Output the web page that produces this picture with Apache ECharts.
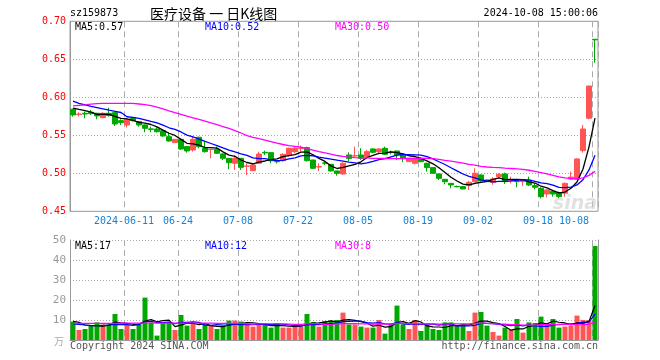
<!DOCTYPE html>
<html><head><meta charset="utf-8">
<script src="https://cdn.jsdelivr.net/npm/echarts@6/dist/echarts.min.js"></script>
<style>html,body{margin:0;padding:0;background:#fff}#c{width:660px;height:360px}</style>
</head><body><div id="c"></div>
<script>
const dates = ['2024-05-28','2024-05-29','2024-05-30','2024-05-31','2024-06-03','2024-06-04','2024-06-05','2024-06-06','2024-06-07','2024-06-11',
'2024-06-12','2024-06-13','2024-06-14','2024-06-17','2024-06-18','2024-06-19','2024-06-20','2024-06-21','2024-06-24','2024-06-25',
'2024-06-26','2024-06-27','2024-06-28','2024-07-01','2024-07-02','2024-07-03','2024-07-04','2024-07-05','2024-07-08','2024-07-09',
'2024-07-10','2024-07-11','2024-07-12','2024-07-15','2024-07-16','2024-07-17','2024-07-18','2024-07-19','2024-07-22','2024-07-23',
'2024-07-24','2024-07-25','2024-07-26','2024-07-29','2024-07-30','2024-07-31','2024-08-01','2024-08-02','2024-08-05','2024-08-06',
'2024-08-07','2024-08-08','2024-08-09','2024-08-12','2024-08-13','2024-08-14','2024-08-15','2024-08-16','2024-08-19','2024-08-20',
'2024-08-21','2024-08-22','2024-08-23','2024-08-26','2024-08-27','2024-08-28','2024-08-29','2024-08-30','2024-09-02','2024-09-03',
'2024-09-04','2024-09-05','2024-09-06','2024-09-09','2024-09-10','2024-09-11','2024-09-12','2024-09-13','2024-09-18','2024-09-19',
'2024-09-20','2024-09-23','2024-09-24','2024-09-25','2024-09-26','2024-09-27','2024-09-30','2024-10-08'];

const opens = [0.5842,0.5772,0.5790,0.5803,0.5790,0.5732,0.5790,0.5798,0.5693,0.5636,
0.5724,0.5680,0.5636,0.5584,0.5583,0.5561,0.5482,0.5404,0.5447,0.5351,
0.5307,0.5474,0.5329,0.5312,0.5316,0.5255,0.5197,0.5132,0.5197,0.5092,
0.5035,0.5132,0.5276,0.5272,0.5158,0.5167,0.5241,0.5285,0.5325,0.5338,
0.5175,0.5083,0.5136,0.5118,0.5031,0.4991,0.5241,0.5228,0.5241,0.5219,
0.5320,0.5285,0.5329,0.5280,0.5294,0.5250,0.5154,0.5132,0.5197,0.5132,
0.5075,0.4991,0.4921,0.4868,0.4827,0.4825,0.4838,0.4890,0.4978,0.4912,
0.4880,0.4956,0.4991,0.4899,0.4895,0.4890,0.4904,0.4838,0.4803,0.4728,
0.4763,0.4746,0.4737,0.4925,0.4921,0.5298,0.5724,0.6763];
const closes = [0.5768,0.5780,0.5780,0.5785,0.5755,0.5790,0.5760,0.5649,0.5667,0.5711,
0.5693,0.5636,0.5592,0.5579,0.5548,0.5491,0.5425,0.5447,0.5320,0.5294,
0.5447,0.5351,0.5285,0.5316,0.5263,0.5197,0.5140,0.5197,0.5079,0.5097,
0.5110,0.5254,0.5268,0.5165,0.5152,0.5250,0.5329,0.5329,0.5329,0.5167,
0.5066,0.5088,0.5132,0.5031,0.5000,0.5132,0.5195,0.5232,0.5197,0.5285,
0.5276,0.5320,0.5250,0.5272,0.5241,0.5197,0.5197,0.5197,0.5154,0.5075,
0.5000,0.4934,0.4890,0.4846,0.4823,0.4794,0.4882,0.5000,0.4899,0.4890,
0.4925,0.4987,0.4890,0.4904,0.4890,0.4904,0.4846,0.4816,0.4693,0.4781,
0.4728,0.4693,0.4868,0.4950,0.5189,0.5583,0.6149,0.6756];
const lows = [0.5746,0.5746,0.5724,0.5768,0.5711,0.5724,0.5746,0.5622,0.5636,0.5601,
0.5680,0.5614,0.5540,0.5540,0.5535,0.5482,0.5417,0.5400,0.5307,0.5272,
0.5285,0.5329,0.5272,0.5197,0.5255,0.5175,0.5053,0.5044,0.5044,0.4978,
0.5031,0.5123,0.5241,0.5132,0.5130,0.5154,0.5219,0.5263,0.5285,0.5154,
0.5057,0.5031,0.5110,0.5022,0.4969,0.4982,0.5162,0.5219,0.5175,0.5206,
0.5265,0.5263,0.5241,0.5250,0.5175,0.5145,0.5150,0.5118,0.5145,0.5022,
0.4995,0.4912,0.4855,0.4803,0.4815,0.4790,0.4781,0.4882,0.4882,0.4885,
0.4850,0.4934,0.4860,0.4868,0.4816,0.4833,0.4833,0.4789,0.4671,0.4684,
0.4693,0.4671,0.4693,0.4912,0.4912,0.5272,0.5711,0.6456];
const highs = [0.5850,0.5803,0.5812,0.5834,0.5795,0.5803,0.5864,0.5800,0.5711,0.5715,
0.5737,0.5685,0.5645,0.5614,0.5605,0.5570,0.5535,0.5450,0.5456,0.5355,
0.5482,0.5482,0.5417,0.5318,0.5351,0.5263,0.5200,0.5241,0.5200,0.5132,
0.5132,0.5285,0.5298,0.5275,0.5170,0.5263,0.5338,0.5351,0.5364,0.5351,
0.5178,0.5132,0.5154,0.5120,0.5035,0.5145,0.5276,0.5351,0.5329,0.5307,
0.5330,0.5329,0.5351,0.5298,0.5296,0.5252,0.5200,0.5200,0.5210,0.5140,
0.5078,0.4995,0.4925,0.4870,0.4838,0.4830,0.4899,0.5066,0.4987,0.4920,
0.4950,0.5000,0.5009,0.4956,0.4904,0.4926,0.4956,0.4868,0.4816,0.4789,
0.4781,0.4759,0.4877,0.5022,0.5197,0.5636,0.6149,0.6763];

const volumes = [9.2,5.0,5.5,7.2,8.8,7.8,7.8,13.0,5.5,7.5,
5.5,7.8,21.2,8.8,2.2,8.8,8.8,5.0,12.5,7.2,
8.3,5.5,7.5,7.5,5.5,7.2,9.7,9.7,9.2,7.8,
6.7,7.5,7.5,6.2,8.3,6.2,6.2,7.2,6.7,13.0,
9.0,6.7,9.5,9.7,10.0,13.7,7.8,7.8,6.7,6.2,
6.2,10.0,3.2,7.8,17.2,7.8,5.5,10.0,4.5,7.5,
5.5,5.0,8.8,8.8,7.5,7.8,4.5,13.7,14.0,7.2,
4.0,2.2,6.2,5.0,10.5,3.7,8.8,8.5,11.7,7.5,
10.5,6.2,6.7,7.2,12.2,10.0,10.0,47.0];

const ma5Head = [0.5858,0.5840,0.5825,0.5805];
const ma10Head = [0.5950,0.5920,0.5900,0.5880,0.5865,0.5848,0.5830,0.5815,0.5800];
const ma30Head = [0.5886,0.5893,0.5900,0.5910,0.5918,0.5921,0.5921,0.5921,0.5921,0.5921,
0.5921,0.5912,0.5903,0.5890,0.5870,0.5848,0.5822,0.5797,0.5775,0.5752,
0.5730,0.5708,0.5685,0.5662,0.5640,0.5615,0.5590,0.5562,0.5530];
const vma5Head = [9.3,8.8,7.5,7.2];
const vma10Head = [8.0,7.8,7.5,7.2,7.2,7.3,7.5,7.8,7.7];
const vma30Head = [8.3,8.3,8.3,8.3,8.3,8.3,8.3,8.3,8.4,8.4,
8.4,8.4,8.5,8.5,8.4,8.4,8.4,8.4,8.5,8.5,
8.5,8.4,8.4,8.4,8.3,8.3,8.3,8.3,8.3];

const tickDates = ['2024-06-11','2024-06-24','2024-07-08','2024-07-22','2024-08-05','2024-08-19','2024-09-02','2024-09-18','2024-10-08'];
const tickLabels = ['2024-06-11','06-24','07-08','07-22','08-05','08-19','09-02','09-18','10-08'];
const legendPrice = ['MA5:0.57','MA10:0.52','MA30:0.50'];
const legendVol = ['MA5:17','MA10:12','MA30:8'];

const UP = '#ff5555', DOWN = '#00a800';
const MONO = '"DejaVu Sans Mono", "Liberation Mono", monospace';

function movingAvg(vals, n, head) {
  return vals.map((v, i) => {
    if (i < n - 1) return head[i];
    let s = 0; for (let k = i - n + 1; k <= i; k++) s += vals[k];
    return +(s / n).toFixed(4);
  });
}
const tickSet = new Set(tickDates);
const labelMap = {}; tickDates.forEach((d, i) => labelMap[d] = tickLabels[i]);
const isTick = (i, v) => tickSet.has(v);

const candleData = dates.map((d, i) => [opens[i], closes[i], lows[i], highs[i]]);
const volData = volumes.map((v, i) => ({ value: v, itemStyle: { color: closes[i] >= opens[i] ? UP : DOWN } }));

const chart = echarts.init(document.getElementById('c'), null, { renderer: 'canvas' });
const gridL = 70, gridW = 528;
const dashed = { color: '#aaaaaa', type: [6, 4], width: 1 };
const dotted = { color: '#aaaaaa', type: [1, 2], width: 1 };

const lineS = (name, data, color, xi, yi, w) => ({
  name, type: 'line', data, xAxisIndex: xi, yAxisIndex: yi, symbol: 'none', smooth: false,
  lineStyle: { color, width: w }, itemStyle: { color }, z: 5, silent: true
});

function txt(text, x, y, color, font, align) {
  return { type: 'text', x, y, silent: true, z: 100,
    style: { text, fill: color, font, align: align || 'left', verticalAlign: 'middle' } };
}

chart.setOption({
  animation: false,
  backgroundColor: '#fff',
  grid: [
    { left: gridL, top: 21.3, width: gridW, height: 190, show: true, borderColor: '#999', borderWidth: 1, backgroundColor: 'transparent' },
    { left: gridL, top: 240, width: gridW, height: 100, show: false }
  ],
  xAxis: [
    { type: 'category', gridIndex: 0, data: dates, boundaryGap: true,
      axisLine: { show: false }, axisTick: { show: false },
      axisLabel: { interval: isTick, formatter: v => labelMap[v] || '', color: '#1a80d0',
        fontFamily: MONO, fontSize: 10, margin: 5, padding: [0, 6, 0, 0], alignMaxLabel: 'right' },
      splitLine: { show: true, interval: isTick, lineStyle: dashed } },
    { type: 'category', gridIndex: 1, data: dates, boundaryGap: true, position: 'top',
      axisLine: { show: true, lineStyle: { color: '#999', width: 1 } }, axisTick: { show: false },
      axisLabel: { show: false },
      splitLine: { show: true, interval: isTick, lineStyle: dashed } }
  ],
  yAxis: [
    { type: 'value', gridIndex: 0, min: 0.45, max: 0.70, interval: 0.05,
      axisLine: { show: true, lineStyle: { color: '#999' } }, axisTick: { show: false },
      axisLabel: { color: '#ff0000', fontFamily: MONO, fontSize: 10, margin: 4, formatter: v => v.toFixed(2) },
      splitLine: { show: true, lineStyle: dotted } },
    { type: 'value', gridIndex: 1, min: 0, max: 50, interval: 10,
      axisLine: { show: true, lineStyle: { color: '#999' } }, axisTick: { show: false },
      axisLabel: { color: '#999', fontFamily: MONO, fontSize: 11, margin: 4, formatter: v => v === 0 ? '' : String(v) },
      splitLine: { show: true, showMinLine: false, lineStyle: dotted } },
    { type: 'value', gridIndex: 1, min: 0, max: 50, interval: 10, position: 'right',
      axisLine: { show: true, lineStyle: { color: '#999' } }, axisTick: { show: false },
      axisLabel: { show: false }, splitLine: { show: false } }
  ],
  series: [
    { type: 'candlestick', xAxisIndex: 0, yAxisIndex: 0, data: candleData, barWidth: 5,
      itemStyle: { color: UP, color0: DOWN, borderColor: UP, borderColor0: DOWN, borderColorDoji: UP, borderWidth: 1 }, z: 3 },
    lineS('MA5', movingAvg(closes, 5, ma5Head), '#000000', 0, 0, 1.3),
    lineS('MA10', movingAvg(closes, 10, ma10Head), '#0000ff', 0, 0, 1.3),
    lineS('MA30', movingAvg(closes, 30, ma30Head), '#ff00ff', 0, 0, 1.3),
    { type: 'bar', xAxisIndex: 1, yAxisIndex: 1, data: volData, barWidth: 5, z: 2 },
    lineS('VMA5', movingAvg(volumes, 5, vma5Head), '#000000', 1, 1, 1.2),
    lineS('VMA10', movingAvg(volumes, 10, vma10Head), '#0000ff', 1, 1, 1.2),
    lineS('VMA30', movingAvg(volumes, 30, vma30Head), '#ff00ff', 1, 1, 1.2)
  ],
  graphic: [
    txt('sz159873', 70, 13.5, '#000', '10px ' + MONO),
    txt('医疗设备 一 日K线图', 150, 13.5, '#000', '14px "Noto Sans CJK SC"'),
    txt('2024-10-08 15:00:06', 598, 13.5, '#000', '10px ' + MONO, 'right'),
    txt(legendPrice[0], 75, 27, '#000', '10px ' + MONO),
    txt(legendPrice[1], 205, 27, '#0000ff', '10px ' + MONO),
    txt(legendPrice[2], 335, 27, '#ff00ff', '10px ' + MONO),
    txt(legendVol[0], 75, 246, '#000', '10px ' + MONO),
    txt(legendVol[1], 205, 246, '#0000ff', '10px ' + MONO),
    txt(legendVol[2], 335, 246, '#ff00ff', '10px ' + MONO),
    txt('Copyright 2024 SINA.COM', 70, 346, '#555', '10px ' + MONO),
    txt('http://finance.sina.com.cn', 598, 346, '#555', '10px ' + MONO, 'right'),
    txt('万', 64, 341, '#aaa', '10px "Noto Sans CJK SC"', 'right'),
    txt('sina', 597, 204, 'rgba(200,200,200,0.55)', 'italic bold 19px "DejaVu Sans"', 'right')
  ]
});
</script></body></html>
